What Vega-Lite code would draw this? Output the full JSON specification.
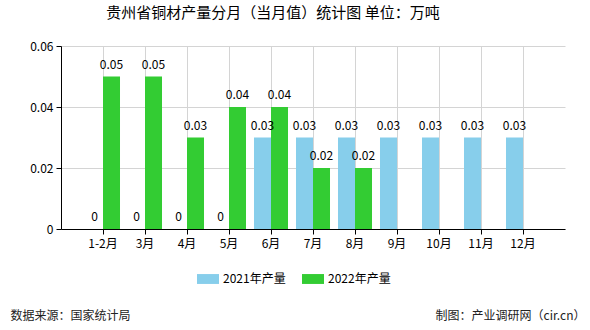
{
  "$schema": "https://vega.github.io/schema/vega-lite/v6.json",
  "autosize": "none",
  "width": 504,
  "height": 183,
  "padding": {"left": 61, "top": 46, "right": 25, "bottom": 101},
  "background": "white",
  "title": {
    "text": "贵州省铜材产量分月（当月值）统计图 单位：万吨",
    "font": "Noto Sans CJK SC",
    "fontSize": 15,
    "fontWeight": "normal",
    "color": "#000000",
    "anchor": "middle",
    "dx": -40,
    "offset": 19
  },
  "config": {
    "view": {"stroke": null},
    "font": "Noto Sans CJK SC",
    "axis": {
      "labelFont": "Noto Sans CJK SC",
      "labelFontSize": 12,
      "labelColor": "#000000",
      "domainColor": "#000000",
      "tickColor": "#000000",
      "tickSize": 5,
      "gridColor": "#d4d4d4",
      "titleFont": "Noto Sans CJK SC",
      "titleFontWeight": "normal",
      "titleFontSize": 12,
      "titleColor": "#222222"
    },
    "legend": {
      "labelFont": "Noto Sans CJK SC",
      "labelFontSize": 12,
      "labelColor": "#000000"
    }
  },
  "data": {
    "values": [
      {"month": "1-2月", "year": "2021年产量", "value": 0},
      {"month": "3月", "year": "2021年产量", "value": 0},
      {"month": "4月", "year": "2021年产量", "value": 0},
      {"month": "5月", "year": "2021年产量", "value": 0},
      {"month": "6月", "year": "2021年产量", "value": 0.03},
      {"month": "7月", "year": "2021年产量", "value": 0.03},
      {"month": "8月", "year": "2021年产量", "value": 0.03},
      {"month": "9月", "year": "2021年产量", "value": 0.03},
      {"month": "10月", "year": "2021年产量", "value": 0.03},
      {"month": "11月", "year": "2021年产量", "value": 0.03},
      {"month": "12月", "year": "2021年产量", "value": 0.03},
      {"month": "1-2月", "year": "2022年产量", "value": 0.05},
      {"month": "3月", "year": "2022年产量", "value": 0.05},
      {"month": "4月", "year": "2022年产量", "value": 0.03},
      {"month": "5月", "year": "2022年产量", "value": 0.04},
      {"month": "6月", "year": "2022年产量", "value": 0.04},
      {"month": "7月", "year": "2022年产量", "value": 0.02},
      {"month": "8月", "year": "2022年产量", "value": 0.02}
    ]
  },
  "encoding": {
    "x": {
      "field": "month",
      "type": "nominal",
      "sort": ["1-2月", "3月", "4月", "5月", "6月", "7月", "8月", "9月", "10月", "11月", "12月"],
      "scale": {"paddingInner": 0, "paddingOuter": 0.5},
      "axis": {
        "labelAngle": 0,
        "grid": true,
        "labelPadding": 4,
        "title": "数据来源：国家统计局",
        "titleAnchor": "start",
        "titleAlign": "left",
        "titleX": -51,
        "titleY": 86,
        "titleBaseline": "middle"
      }
    },
    "xOffset": {
      "field": "year",
      "type": "nominal",
      "scale": {"domain": ["2021年产量", "2022年产量"], "paddingInner": 0, "paddingOuter": 0.235}
    },
    "y": {
      "field": "value",
      "type": "quantitative",
      "scale": {"domain": [0, 0.06], "nice": false},
      "axis": {
        "values": [0, 0.02, 0.04, 0.06],
        "format": "~g",
        "labelPadding": 3,
        "title": "制图：产业调研网（cir.cn）",
        "titleAngle": 0,
        "titleAlign": "right",
        "titleBaseline": "middle",
        "titleX": 524,
        "titleY": 269
      }
    }
  },
  "layer": [
    {
      "mark": {"type": "bar"},
      "encoding": {
        "color": {
          "field": "year",
          "type": "nominal",
          "scale": {"domain": ["2021年产量", "2022年产量"], "range": ["#87ceeb", "#33cc33"]},
          "legend": {
            "title": null,
            "orient": "none",
            "direction": "horizontal",
            "legendX": 136,
            "legendY": 222,
            "symbolType": "M-1,-0.45H1V0.45H-1Z",
            "symbolSize": 484,
            "symbolStrokeWidth": 0,
            "labelOffset": 4,
            "columnPadding": 16
          }
        }
      }
    },
    {
      "mark": {"type": "text", "baseline": "bottom", "dy": -5, "fontSize": 12, "font": "Noto Sans CJK SC", "color": "#000000"},
      "encoding": {
        "text": {"field": "value", "type": "quantitative", "format": "~g"}
      }
    }
  ]
}
